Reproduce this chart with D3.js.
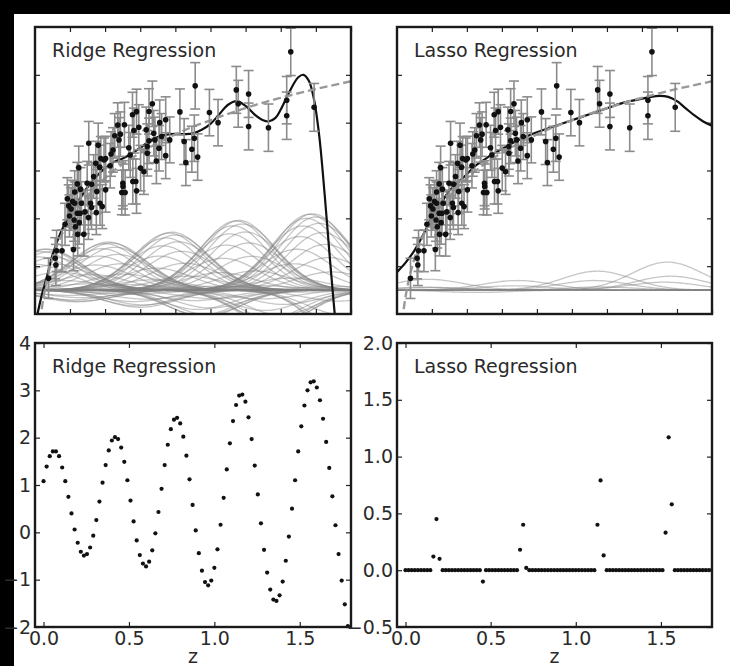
<!DOCTYPE html>
<html>
<head>
<meta charset="utf-8">
<script src="https://cdn.jsdelivr.net/npm/d3@7"></script>
<style>
  body { margin: 0; background: #000; }
  svg { display: block; }
</style>
</head>
<body>
<script>
'use strict';

// ---- data ----

// observed sample: redshift, distance modulus, error
const zSample = [
  0.078, 0.116, 0.120, 0.124, 0.155, 0.172, 0.185, 0.193, 0.197, 0.206,
  0.215, 0.220, 0.224, 0.227, 0.227, 0.231, 0.242, 0.242, 0.244, 0.250,
  0.253, 0.258, 0.260, 0.265, 0.279, 0.286, 0.298, 0.305, 0.307, 0.317,
  0.323, 0.324, 0.335, 0.347, 0.350, 0.353, 0.361, 0.369, 0.371, 0.376,
  0.384, 0.394, 0.403, 0.403, 0.429, 0.434, 0.445, 0.455, 0.472, 0.479,
  0.487, 0.495, 0.501, 0.502, 0.510, 0.514, 0.535, 0.543, 0.556, 0.558,
  0.564, 0.575, 0.579, 0.579, 0.592, 0.602, 0.621, 0.634, 0.640, 0.640,
  0.650, 0.650, 0.669, 0.677, 0.684, 0.692, 0.707, 0.711, 0.722, 0.745,
  0.745, 0.768, 0.826, 0.850, 0.860, 0.894, 0.908, 0.913, 0.927, 0.994,
  1.043, 1.147, 1.158, 1.217, 1.217, 1.330, 1.434, 1.434, 1.457, 1.590
];
const muSample = [
  37.49, 38.33, 38.05, 38.64, 38.64, 39.75, 40.82, 40.52, 40.10, 40.39,
  40.70, 38.70, 39.93, 41.10, 40.63, 39.65, 41.44, 40.21, 39.33, 42.12,
  39.82, 40.21, 41.22, 40.63, 39.33, 40.27, 41.47, 40.03, 43.14, 40.63,
  40.45, 41.42, 41.75, 42.30, 40.24, 41.12, 43.06, 42.14, 40.63, 42.50,
  40.49, 42.44, 42.50, 41.19, 42.20, 42.69, 42.86, 43.45, 43.90, 43.28,
  43.52, 41.08, 41.47, 41.33, 43.91, 41.08, 42.95, 42.65, 44.33, 41.54,
  43.67, 41.54, 44.46, 41.15, 43.81, 42.10, 41.95, 43.70, 42.72, 43.00,
  44.47, 43.24, 44.79, 43.56, 43.28, 42.40, 42.93, 44.00, 43.42, 44.12,
  42.62, 43.28, 44.45, 43.21, 42.33, 42.89, 43.35, 45.54, 42.56, 44.42,
  44.00, 45.37, 44.79, 45.20, 43.84, 43.79, 44.94, 44.29, 46.96, 44.64
];
const dmuSample = [
  0.84, 0.86, 0.86, 0.86, 0.87, 0.88, 0.88, 0.88, 0.88, 0.89,
  0.89, 0.89, 0.89, 0.89, 0.89, 0.89, 0.90, 0.90, 0.90, 0.90,
  0.90, 0.90, 0.90, 0.90, 0.91, 0.91, 0.91, 0.91, 0.91, 0.91,
  0.91, 0.91, 0.91, 0.92, 0.92, 0.92, 0.92, 0.92, 0.92, 0.92,
  0.92, 0.92, 0.93, 0.93, 0.93, 0.93, 0.93, 0.93, 0.93, 0.93,
  0.93, 0.93, 0.94, 0.94, 0.94, 0.94, 0.94, 0.94, 0.94, 0.94,
  0.94, 0.94, 0.94, 0.94, 0.94, 0.95, 0.95, 0.95, 0.95, 0.95,
  0.95, 0.95, 0.95, 0.95, 0.95, 0.95, 0.95, 0.95, 0.96, 0.96,
  0.96, 0.96, 0.96, 0.96, 0.96, 0.96, 0.97, 0.97, 0.97, 0.97,
  0.97, 0.98, 0.98, 0.98, 0.98, 0.99, 0.99, 0.99, 0.99, 1.00
];

// true distance modulus (dashed line)
const zTrue  = [0.01, 0.02, 0.05, 0.10, 0.15, 0.20, 0.25, 0.30, 0.35, 0.40, 0.45, 0.50,
                0.60, 0.70, 0.80, 0.90, 1.00, 1.10, 1.20, 1.30, 1.40, 1.50, 1.60, 1.70, 1.80];
const muTrue = [33.20, 34.72, 36.73, 38.31, 39.26, 39.96, 40.50, 40.95, 41.34, 41.68, 41.99, 42.26,
                42.74, 43.15, 43.51, 43.83, 44.10, 44.37, 44.61, 44.84, 45.04, 45.23, 45.41, 45.57, 45.73];

// fitted curves (solid black)
const zRidgeFit  = [0.015, 0.04, 0.067, 0.10, 0.15, 0.20, 0.25, 0.30, 0.35, 0.40, 0.45, 0.50, 0.55,
                    0.60, 0.65, 0.70, 0.75, 0.80, 0.85, 0.90, 0.95, 1.00, 1.05, 1.10, 1.15, 1.20,
                    1.25, 1.30, 1.33, 1.37, 1.40, 1.45, 1.50, 1.53, 1.56, 1.59, 1.62, 1.65, 1.68, 1.70, 1.715];
const muRidgeFit = [36.00, 36.80, 37.50, 38.45, 39.45, 40.15, 40.75, 41.30, 41.75, 42.10, 42.35, 42.50, 42.70,
                    42.95, 43.20, 43.40, 43.50, 43.53, 43.52, 43.55, 43.70, 43.95, 44.35, 44.75, 44.90, 44.70,
                    44.35, 44.10, 44.05, 44.20, 44.55, 45.30, 45.90, 46.00, 45.75, 44.95, 43.40, 41.00, 38.30, 36.60, 35.40];

const zLassoFit  = [0.001, 0.05, 0.10, 0.15, 0.20, 0.25, 0.30, 0.35, 0.40, 0.45, 0.50, 0.55, 0.60, 0.70,
                    0.80, 0.90, 1.00, 1.10, 1.20, 1.30, 1.40, 1.45, 1.50, 1.55, 1.60, 1.65, 1.70, 1.75, 1.80];
const muLassoFit = [37.75, 38.15, 38.65, 39.30, 40.05, 40.60, 41.15, 41.50, 41.85, 42.20, 42.45, 42.70, 42.90, 43.30,
                    43.60, 43.85, 44.10, 44.35, 44.60, 44.85, 45.00, 45.08, 45.12, 45.08, 44.90, 44.60, 44.30, 44.05, 43.87];

// 100 basis centres, evenly spaced 0 .. 1.8
const centers = d3.range(100).map(i => i * 1.8 / 99);
const basisWidth = 0.2;

// coefficients (bottom panels)
const ridgeCoef = [
   1.08,  1.39,  1.61,  1.71,  1.71,  1.61,  1.37,  1.08,  0.75,  0.40,
   0.06, -0.22, -0.41, -0.49, -0.46, -0.32, -0.07,  0.26,  0.65,  1.05,
   1.42,  1.73,  1.94,  2.01,  1.97,  1.79,  1.49,  1.10,  0.67,  0.23,
  -0.17, -0.48, -0.66, -0.72, -0.62, -0.38, -0.02,  0.43,  0.92,  1.42,
   1.85,  2.18,  2.38,  2.42,  2.30,  2.02,  1.62,  1.12,  0.58,  0.04,
  -0.44, -0.81, -1.05, -1.12, -1.02, -0.75, -0.36,  0.16,  0.73,  1.33,
   1.88,  2.35,  2.69,  2.89,  2.91,  2.76,  2.43,  1.97,  1.41,  0.80,
   0.19, -0.37, -0.85, -1.21, -1.42, -1.45, -1.33, -1.04, -0.60, -0.09,
   0.50,  1.10,  1.71,  2.24,  2.68,  3.00,  3.17,  3.19,  3.06,  2.79,
   2.40,  1.91,  1.36,  0.76,  0.15, -0.46, -1.02, -1.52, -1.98, -2.40
];
const lassoCoef = [
   0,     0,     0,     0,     0,     0,     0,     0,     0,     0.12,
   0.45,  0.10,  0,     0,     0,     0,     0,     0,     0,     0,
   0,     0,     0,     0,     0,    -0.10,  0,     0,     0,     0,
   0,     0,     0,     0,     0,     0,     0,     0.18,  0.40,  0.02,
   0,     0,     0,     0,     0,     0,     0,     0,     0,     0,
   0,     0,     0,     0,     0,     0,     0,     0,     0,     0,
   0,     0,     0.40,  0.79,  0.13,  0,     0,     0,     0,     0,
   0,     0,     0,     0,     0,     0,     0,     0,     0,     0,
   0,     0,     0,     0,     0.33,  1.17,  0.58,  0,     0,     0,
   0,     0,     0,     0,     0,     0,     0,     0,     0,     0
];

const topXTicks = [0, 0.2, 0.4, 0.6, 0.8, 1.0, 1.2, 1.4, 1.6, 1.8];
const topYTicks = [38, 40, 42, 44, 46];
const botXTicks = [0, 0.5, 1.0, 1.5];
const ridgeYTicks = [-2, -1, 0, 1, 2, 3, 4];
const lassoYTicks = [-0.5, 0, 0.5, 1.0, 1.5, 2.0];

// ---- drawing ----
const W = 730, H = 666;
const FONT = 'DejaVu Sans, sans-serif';
const TXT = '#2a2a2a';

const svg = d3.select('body').append('svg')
  .attr('width', W)
  .attr('height', H);

svg.append('rect').attr('width', W).attr('height', H).attr('fill', '#000');
svg.append('rect').attr('x', 14).attr('y', 14)
  .attr('width', W - 14).attr('height', H - 14).attr('fill', '#fff');

let clipCount = 0;

function makePanel(box, xDom, yDom) {
  let x = d3.scaleLinear().domain(xDom).range([box.x, box.x + box.w]);
  let y = d3.scaleLinear().domain(yDom).range([box.y + box.h, box.y]);
  let id = 'clip' + (clipCount++);
  svg.append('clipPath').attr('id', id)
    .append('rect')
    .attr('x', box.x).attr('y', box.y)
    .attr('width', box.w).attr('height', box.h);
  let g = svg.append('g').attr('clip-path', 'url(#' + id + ')');
  return { x: x, y: y, g: g, box: box };
}

function styleAxis(sel) {
  sel.attr('font-family', null).attr('font-size', null);
  sel.select('.domain').remove();
  sel.selectAll('line').attr('stroke', '#222').attr('stroke-width', 1.2);
  sel.selectAll('text')
    .attr('font-family', FONT)
    .attr('font-size', 19)
    .attr('fill', TXT);
}

function drawFrame(p, xTicks, yTicks, xFmt, yFmt) {
  let box = p.box;
  let none = () => '';
  svg.append('g')
    .attr('transform', 'translate(0,' + (box.y + box.h) + ')')
    .call(d3.axisBottom(p.x).tickValues(xTicks).tickSize(-5).tickPadding(4).tickFormat(xFmt || none))
    .call(styleAxis);
  svg.append('g')
    .attr('transform', 'translate(0,' + box.y + ')')
    .call(d3.axisTop(p.x).tickValues(xTicks).tickSize(-5).tickFormat(none))
    .call(styleAxis);
  svg.append('g')
    .attr('transform', 'translate(' + box.x + ',0)')
    .call(d3.axisLeft(p.y).tickValues(yTicks).tickSize(-5).tickPadding(4).tickFormat(yFmt || none))
    .call(styleAxis);
  svg.append('g')
    .attr('transform', 'translate(' + (box.x + box.w) + ',0)')
    .call(d3.axisRight(p.y).tickValues(yTicks).tickSize(-5).tickFormat(none))
    .call(styleAxis);
  svg.append('rect')
    .attr('x', box.x).attr('y', box.y)
    .attr('width', box.w).attr('height', box.h)
    .attr('fill', 'none')
    .attr('stroke', '#1a1a1a')
    .attr('stroke-width', 2.4);
}

function addTitle(p, label) {
  svg.append('text')
    .attr('x', p.box.x + 17)
    .attr('y', p.box.y + 30)
    .attr('font-family', FONT)
    .attr('font-size', 19)
    .attr('fill', TXT)
    .text(label);
}

// top panel: basis curves, fit, true curve, data with error bars
function drawTop(box, coef, zFit, muFit, label) {
  let p = makePanel(box, [0.001, 1.8], [36, 48]);
  let zGrid = d3.range(0, 1.8001, 0.01);

  // each basis function scaled by its coefficient, offset to 37
  let curves = centers.map((c, i) => ({ c: c, w: coef[i] }))
    .filter(d => Math.abs(d.w) > 0.01);
  let basisLine = d3.line()
    .x(z => p.x(z))
    .y(function(z) { return p.y(37 + this.w * Math.exp(-0.5 * Math.pow((z - this.c) / basisWidth, 2))); });
  p.g.selectAll('.basis')
    .data(curves)
    .enter()
    .append('path')
    .attr('class', 'basis')
    .attr('d', d => d3.line()
      .x(z => p.x(z))
      .y(z => p.y(37 + d.w * Math.exp(-0.5 * Math.pow((z - d.c) / basisWidth, 2))))(zGrid))
    .attr('fill', 'none')
    .attr('stroke', '#808080')
    .attr('stroke-opacity', 0.45)
    .attr('stroke-width', 1.3);

  // fit
  let fitLine = d3.line()
    .x(d => p.x(d[0]))
    .y(d => p.y(d[1]))
    .curve(d3.curveCatmullRom.alpha(0.5));
  p.g.append('path')
    .attr('d', fitLine(d3.zip(zFit, muFit)))
    .attr('fill', 'none')
    .attr('stroke', '#111')
    .attr('stroke-width', 2.2);

  // true curve
  p.g.append('path')
    .attr('d', fitLine(d3.zip(zTrue, muTrue)))
    .attr('fill', 'none')
    .attr('stroke', '#999')
    .attr('stroke-width', 2.4)
    .attr('stroke-dasharray', '8,4');

  // error bars
  let pts = zSample.map((z, i) => ({ z: z, mu: muSample[i], e: dmuSample[i] }));
  let eb = p.g.selectAll('.eb').data(pts).enter().append('g').attr('class', 'eb');
  eb.append('line')
    .attr('x1', d => p.x(d.z)).attr('x2', d => p.x(d.z))
    .attr('y1', d => p.y(d.mu - d.e)).attr('y2', d => p.y(d.mu + d.e));
  eb.append('line')
    .attr('x1', d => p.x(d.z) - 5).attr('x2', d => p.x(d.z) + 5)
    .attr('y1', d => p.y(d.mu - d.e)).attr('y2', d => p.y(d.mu - d.e));
  eb.append('line')
    .attr('x1', d => p.x(d.z) - 5).attr('x2', d => p.x(d.z) + 5)
    .attr('y1', d => p.y(d.mu + d.e)).attr('y2', d => p.y(d.mu + d.e));
  eb.selectAll('line').attr('stroke', '#8c8c8c').attr('stroke-width', 1.6);

  p.g.selectAll('.dot')
    .data(pts)
    .enter()
    .append('circle')
    .attr('cx', d => p.x(d.z))
    .attr('cy', d => p.y(d.mu))
    .attr('r', 2.8)
    .attr('fill', '#111');

  drawFrame(p, topXTicks, topYTicks);
  addTitle(p, label);
}

// bottom panel: coefficients against basis centre
function drawBottom(box, coef, yDom, yTicks, yFmt, label) {
  let p = makePanel(box, [-0.05, 1.8], yDom);
  p.g.selectAll('.coef')
    .data(centers)
    .enter()
    .append('circle')
    .attr('cx', d => p.x(d))
    .attr('cy', (d, i) => p.y(coef[i]))
    .attr('r', 2.1)
    .attr('fill', '#111');

  drawFrame(p, botXTicks, yTicks, d3.format('.1f'), yFmt);
  addTitle(p, label);

  svg.append('text')
    .attr('x', box.x + box.w / 2)
    .attr('y', 663)
    .attr('text-anchor', 'middle')
    .attr('font-family', FONT)
    .attr('font-size', 19)
    .attr('fill', TXT)
    .text('z');
}

drawTop({ x: 35, y: 27, w: 316, h: 287 }, ridgeCoef, zRidgeFit, muRidgeFit, 'Ridge Regression');
drawTop({ x: 397, y: 27, w: 315, h: 287 }, lassoCoef, zLassoFit, muLassoFit, 'Lasso Regression');
drawBottom({ x: 35, y: 343, w: 316, h: 284 }, ridgeCoef, [-2, 4], ridgeYTicks, d3.format('d'), 'Ridge Regression');
drawBottom({ x: 397, y: 343, w: 315, h: 284 }, lassoCoef, [-0.5, 2], lassoYTicks, d3.format('.1f'), 'Lasso Regression');
</script>
</body>
</html>
